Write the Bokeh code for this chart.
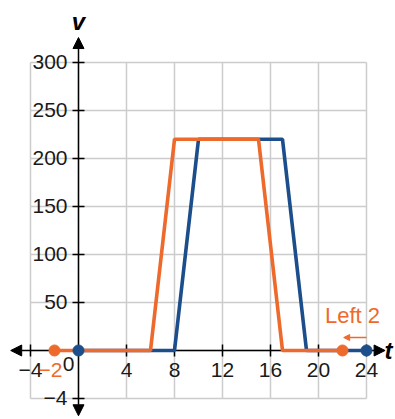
from bokeh.plotting import figure
from bokeh.models import Range1d, Arrow, NormalHead
from bokeh.core.properties import value
from bokeh.embed import file_html
from bokeh.resources import INLINE
import math

# ---- data ----
blue_t = [0, 8, 10, 17, 19, 24]
blue_v = [0, 0, 220, 220, 0, 0]
orange_t = [-2, 6, 8, 15, 17, 22]
orange_v = [0, 0, 220, 220, 0, 0]

x_ticks = [-4, 0, 4, 8, 12, 16, 20, 24]
x_tick_labels = ["\u22124", "", "4", "8", "12", "16", "20", "24"]
y_ticks = [-50, 0, 50, 100, 150, 200, 250, 300]
y_tick_labels = ["\u22124", "", "50", "100", "150", "200", "250", "300"]

ORANGE = "#EE6A2C"
BLUE = "#1C4E8B"
GRID = "#cccccc"
FONT = value("Liberation Sans")
TXT = "#1a1a1a"

p = figure(width=395, height=419, output_backend="svg", toolbar_location=None,
           x_axis_type=None, y_axis_type=None,
           x_range=Range1d(-6.5, 26.417), y_range=Range1d(-71.875, 364.58),
           min_border=0, min_border_left=0, min_border_right=0,
           min_border_top=0, min_border_bottom=0)
p.outline_line_color = None
p.background_fill_color = "white"

# grid
xmin, xmax = x_ticks[0], x_ticks[-1]
ymin, ymax = y_ticks[0], y_ticks[-1]
g1 = p.segment(x0=x_ticks, x1=x_ticks, y0=[ymin]*len(x_ticks), y1=[ymax]*len(x_ticks),
               line_color=GRID, line_width=1.5)
g2 = p.segment(x0=[xmin]*len(y_ticks), x1=[xmax]*len(y_ticks), y0=y_ticks, y1=y_ticks,
               line_color=GRID, line_width=1.5)
g1.level = "image"
g2.level = "image"

# axes with arrows (below the data series)
head = dict(size=11, fill_color="black", line_color="black")
p.add_layout(Arrow(end=NormalHead(**head), start=NormalHead(**head),
                   x_start=-5.65, y_start=0, x_end=25.55, y_end=0,
                   line_color="black", line_width=1.5, level="underlay"))
p.add_layout(Arrow(end=NormalHead(**head), start=NormalHead(**head),
                   x_start=0, y_start=-68, x_end=0, y_end=326,
                   line_color="black", line_width=1.5, level="underlay"))

# tick marks
xt = [t for t in x_ticks if t != 0]
yt = [t for t in y_ticks if t != 0]
t1 = p.scatter(x=xt, y=[0]*len(xt), marker="dash", size=12, angle=math.pi/2,
               line_color="black", line_width=1.5)
t2 = p.scatter(x=[0]*len(yt), y=yt, marker="dash", size=12,
               line_color="black", line_width=1.5)
t1.level = "underlay"
t2.level = "underlay"

# tick labels
p.text(x=x_ticks, y=[0]*len(x_ticks), text=x_tick_labels, text_font=FONT,
       text_font_size="21px", text_align="center", text_baseline="middle",
       y_offset=20, text_color=TXT)
p.text(x=[0]*len(y_ticks), y=y_ticks, text=y_tick_labels, text_font=FONT,
       text_font_size="21px", text_align="right", text_baseline="middle",
       x_offset=-11, text_color=TXT)
p.text(x=[0], y=[0], text=["0"], text_font=FONT, text_font_size="21px",
       text_align="center", text_baseline="middle", x_offset=-10, y_offset=14,
       text_color=TXT)

# axis titles
p.text(x=[0], y=[343], text=["v"], text_font=FONT, text_font_size="24px",
       text_font_style="bold italic", text_align="center", text_baseline="middle")
p.text(x=[25.75], y=[0], text=["t"], text_font=FONT, text_font_size="24px",
       text_font_style="bold italic", text_align="left", text_baseline="middle",
       x_offset=-3)

# series
p.line(blue_t, blue_v, line_color=BLUE, line_width=3.6)
p.line(orange_t, orange_v, line_color=ORANGE, line_width=3.6)
p.scatter([blue_t[0], blue_t[-1]], [blue_v[0], blue_v[-1]], size=11,
          fill_color=BLUE, line_color=BLUE)
p.scatter([orange_t[0], orange_t[-1]], [orange_v[0], orange_v[-1]], size=11,
          fill_color=ORANGE, line_color=ORANGE)

# shift annotation
p.text(x=[orange_t[0]], y=[0], text=["\u22122"], text_font=FONT, text_font_size="21px",
       text_align="center", text_baseline="middle", x_offset=-4, y_offset=20,
       text_color=ORANGE)
p.text(x=[23], y=[0], text=["Left 2"], text_font=FONT, text_font_size="22px",
       text_align="center", text_baseline="middle", x_offset=-2, y_offset=-35,
       text_color=ORANGE)
p.add_layout(Arrow(end=NormalHead(size=6, fill_color=ORANGE, line_color=ORANGE),
                   x_start=24, y_start=13.5, x_end=22.1, y_end=13.5,
                   line_color=ORANGE, line_width=1.5))

open("out.html", "w").write(file_html(p, INLINE))
